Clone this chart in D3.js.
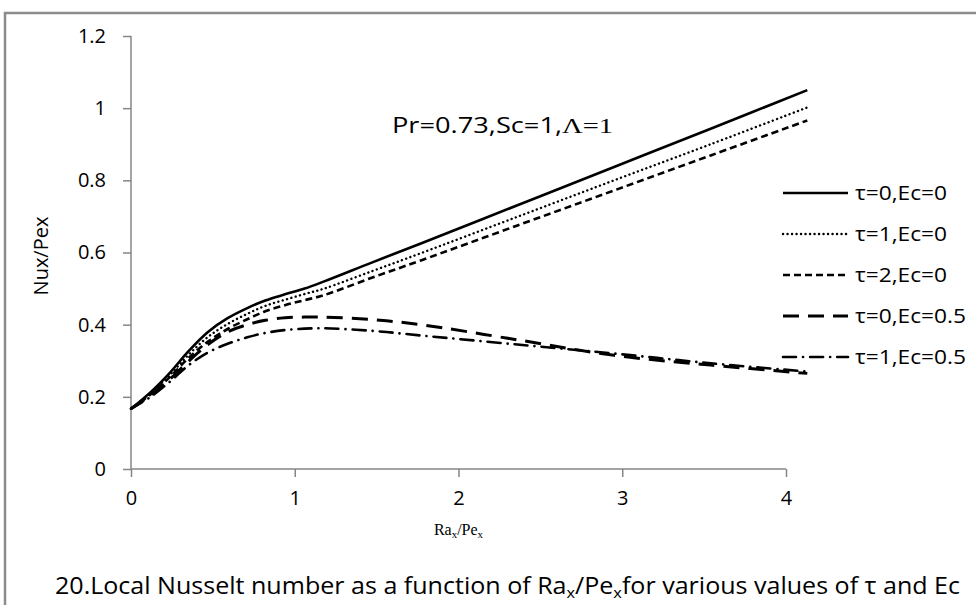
<!DOCTYPE html>
<html><head><meta charset="utf-8">
<script src="https://cdn.jsdelivr.net/npm/d3@7"></script>
<style>
body{margin:0;background:#fff}
svg{display:block}
.sans{font-family:'Open Sans',Lato,sans-serif}
.serif{font-family:'Liberation Serif','DejaVu Serif',serif}
</style>
</head><body>
<svg id="chart" width="976" height="605"></svg>
<script>
// ---- data ----
const xValues   = [0, 0.12, 0.24, 0.35, 0.47, 0.59, 0.71, 0.82, 0.94, 1.06, 1.18, 1.47, 1.77, 2.36, 2.95, 3.54, 4.13];
const tau0Ec0   = [0.167, 0.213, 0.268, 0.326, 0.38, 0.418, 0.446, 0.467, 0.484, 0.5, 0.52, 0.572, 0.625, 0.731, 0.837, 0.943, 1.05];
const tau1Ec0   = [0.167, 0.21, 0.262, 0.316, 0.366, 0.402, 0.43, 0.452, 0.469, 0.485, 0.5, 0.548, 0.598, 0.699, 0.8, 0.9, 1.002];
const tau2Ec0   = [0.167, 0.207, 0.256, 0.307, 0.353, 0.388, 0.415, 0.437, 0.454, 0.468, 0.482, 0.53, 0.578, 0.675, 0.772, 0.869, 0.966];
const tau0Ec05  = [0.167, 0.205, 0.25, 0.298, 0.345, 0.38, 0.4, 0.412, 0.419, 0.421, 0.421, 0.414, 0.4, 0.358, 0.315, 0.288, 0.265];
const tau1Ec05  = [0.167, 0.2, 0.243, 0.287, 0.323, 0.347, 0.365, 0.377, 0.385, 0.389, 0.39, 0.383, 0.37, 0.345, 0.32, 0.293, 0.27];
const seriesNames = ["τ=0,Ec=0", "τ=1,Ec=0", "τ=2,Ec=0", "τ=0,Ec=0.5", "τ=1,Ec=0.5"];
const seriesValues = [tau0Ec0, tau1Ec0, tau2Ec0, tau0Ec05, tau1Ec05];
const xTicks = [0, 1, 2, 3, 4];
const yTicks = [0, 0.2, 0.4, 0.6, 0.8, 1, 1.2];
const yTickLabels = ["0", "0.2", "0.4", "0.6", "0.8", "1", "1.2"];

// ---- styles ----
const dashes = [null, "0.1,4.4", "7,4", "16,9", "13,7,0.1,7"];
const widths = [2.6, 2.4, 2.6, 3, 2.6];
const caps = ["butt", "round", "butt", "butt", "round"];

const svg = d3.select("#chart");
const M = {left: 131, top: 36, bottom: 469, right: 786};
const x = d3.scaleLinear().domain([0, 4]).range([M.left, M.right]);
const y = d3.scaleLinear().domain([0, 1.2]).range([M.bottom, M.top]);
const axisColor = "#868686";

// outer frame
svg.append("rect").attr("x", 5).attr("y", 13).attr("width", 1100).attr("height", 800)
  .attr("fill", "none").attr("stroke", "#8c8c8c").attr("stroke-width", 2.5);

// axes
const yAxis = svg.append("g").attr("transform", `translate(${M.left},0)`)
  .call(d3.axisLeft(y).tickValues(yTicks).tickFormat((d, i) => yTickLabels[i]).tickSize(8).tickPadding(17));
const xAxis = svg.append("g").attr("transform", `translate(0,${M.bottom})`)
  .call(d3.axisBottom(x).tickValues(xTicks).tickFormat(d3.format("d")).tickSize(8).tickPadding(14));
[yAxis, xAxis].forEach(g => {
  g.select(".domain").attr("stroke", axisColor).attr("stroke-width", 1.5);
  g.selectAll(".tick line").attr("stroke", axisColor).attr("stroke-width", 1.5);
  g.selectAll(".tick text").attr("class", "sans").attr("font-size", 20).attr("fill", "#000");
});
xAxis.select(".domain").attr("d", `M${M.left},0H${M.right}`);
yAxis.select(".domain").attr("d", `M0,${M.bottom}V${M.top}`);

// lines
const line = d3.line().x((d, i) => x(xValues[i])).y(d => y(d)).curve(d3.curveCatmullRom.alpha(0.5));
seriesValues.forEach((vals, k) => {
  svg.append("path").attr("d", line(vals)).attr("fill", "none").attr("stroke", "#000")
    .attr("stroke-width", widths[k]).attr("stroke-linecap", caps[k])
    .attr("stroke-dasharray", dashes[k]);
});

// legend
const lg = svg.append("g");
seriesNames.forEach((name, k) => {
  const yy = 193 + k * 41;
  lg.append("line").attr("x1", 783).attr("x2", 848).attr("y1", yy).attr("y2", yy)
    .attr("stroke", "#000").attr("stroke-width", widths[k]).attr("stroke-linecap", caps[k])
    .attr("stroke-dasharray", dashes[k]);
  lg.append("text").attr("class", "sans").attr("x", 855).attr("y", yy).attr("dy", "0.36em")
    .attr("font-size", 20).attr("textLength", name.length > 8 ? 111 : 92)
    .attr("lengthAdjust", "spacingAndGlyphs").text(name);
});

// annotation
const ann = svg.append("text").attr("x", 392).attr("y", 133).attr("font-size", 21)
  .attr("textLength", 221).attr("lengthAdjust", "spacingAndGlyphs");
ann.append("tspan").attr("class", "sans").text("Pr=0.73,Sc=1,");
ann.append("tspan").attr("class", "serif").attr("font-size", 22).text("Λ=1");

// y title
svg.append("text").attr("class", "sans").attr("font-size", 20)
  .attr("transform", `translate(48,256) rotate(-90)`)
  .attr("text-anchor", "middle").text("Nux/Pex");

// x title
const xt = svg.append("text").attr("class", "serif").attr("x", (M.left + M.right) / 2).attr("y", 535)
  .attr("text-anchor", "middle").attr("font-size", 16);
xt.append("tspan").text("Ra");
xt.append("tspan").attr("font-size", 11).attr("dy", 3).text("x");
xt.append("tspan").attr("dy", -3).text("/Pe");
xt.append("tspan").attr("font-size", 11).attr("dy", 3).text("x");

// caption
const cap = svg.append("text").attr("class", "sans").attr("x", 55).attr("y", 594)
  .attr("font-size", 23).attr("textLength", 905).attr("lengthAdjust", "spacingAndGlyphs");
cap.append("tspan").text("20.Local Nusselt number as a function of Ra");
cap.append("tspan").attr("font-size", 15).attr("dy", 4).text("x");
cap.append("tspan").attr("dy", -4).text("/Pe");
cap.append("tspan").attr("font-size", 15).attr("dy", 4).text("x");
cap.append("tspan").attr("dy", -4).text("for various values of τ and Ec");
</script>
</body></html>
